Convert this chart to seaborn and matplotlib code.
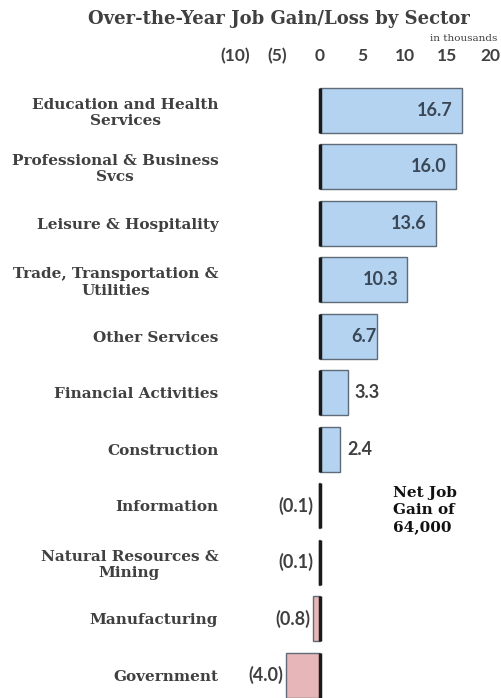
import pandas as pd
import seaborn as sns
import matplotlib.pyplot as plt

sectors = ["Education and Health\nServices", "Professional & Business\nSvcs",
           "Leisure & Hospitality", "Trade, Transportation &\nUtilities",
           "Other Services", "Financial Activities", "Construction",
           "Information", "Natural Resources &\nMining", "Manufacturing",
           "Government"]
change = [16.7, 16.0, 13.6, 10.3, 6.7, 3.3, 2.4, -0.1, -0.1, -0.8, -4.0]
tick_vals = [-10, -5, 0, 5, 10, 15, 20]
tick_text = ["(10)", "(5)", "0", "5", "10", "15", "20"]

df = pd.DataFrame({"sector": sectors, "change": change})
df["sign"] = ["gain" if v >= 0 else "loss" for v in df["change"]]

sns.set_style("white")
plt.rcParams["font.family"] = ["DejaVu Serif"]

fig = plt.figure(figsize=(5.02, 6.98), dpi=100)
ax = fig.add_axes([0.468, 0.0, 0.508, 0.8825])

sns.barplot(data=df, y="sector", x="change", hue="sign",
            palette={"gain": "#b4d3f0", "loss": "#e6b6b8"}, saturation=1,
            dodge=False, width=0.8, legend=False, ax=ax,
            edgecolor="#5f6b78", linewidth=1)

# darker edge along zero line
n = len(df)
ax.vlines([0] * n, [i - 0.4 for i in range(n)], [i + 0.4 for i in range(n)],
          color="#1a1a1a", lw=2.5, zorder=3)

ax.set_xlim(-10, 20)
ax.set_ylim(10.4, -0.5)
ax.xaxis.tick_top()
ax.set_xticks(tick_vals)
ax.set_xticklabels(tick_text, fontfamily="Lato", fontweight="bold",
                   fontsize=12.5, color="#404040")
ax.tick_params(axis="x", length=0, pad=13)
ax.tick_params(axis="y", length=0, pad=12)
for lab in ax.get_yticklabels():
    lab.set_fontweight("bold")
    lab.set_fontsize(11)
    lab.set_color("#404040")
    lab.set_multialignment("center")
ax.set_xlabel("")
ax.set_ylabel("")
sns.despine(ax=ax, left=True, bottom=True, top=True, right=True)

lab_kw = dict(va="center", fontfamily="Lato", fontweight="bold", fontsize=13)
for i, v in enumerate(df["change"]):
    txt = f"{v:.1f}" if v >= 0 else f"({abs(v):.1f})"
    if v >= 8:
        ax.text(v - 1.1, i, txt, ha="right", color="#3a4756", **lab_kw)
    elif v >= 5:
        ax.text(v - 0.1, i, txt, ha="right", color="#3a4756", **lab_kw)
    elif v >= 0:
        ax.text(v + 0.8, i, txt, ha="left", color="#404040", **lab_kw)
    else:
        ax.text(min(v, -0.5) - 0.3, i, txt, ha="right", color="#404040", **lab_kw)

fig.text(0.555, 0.973, "Over-the-Year Job Gain/Loss by Sector", ha="center", va="center",
         fontsize=13, fontweight="bold", color="#404040")
fig.text(0.99, 0.945, "in thousands", ha="right", va="center", fontsize=7.5, color="#404040")
fig.text(0.783, 0.269, "Net Job\nGain of\n64,000", ha="left", va="center",
         fontsize=11, fontweight="bold", color="#111111", linespacing=1.3)

fig.savefig("out.png", dpi=100)
